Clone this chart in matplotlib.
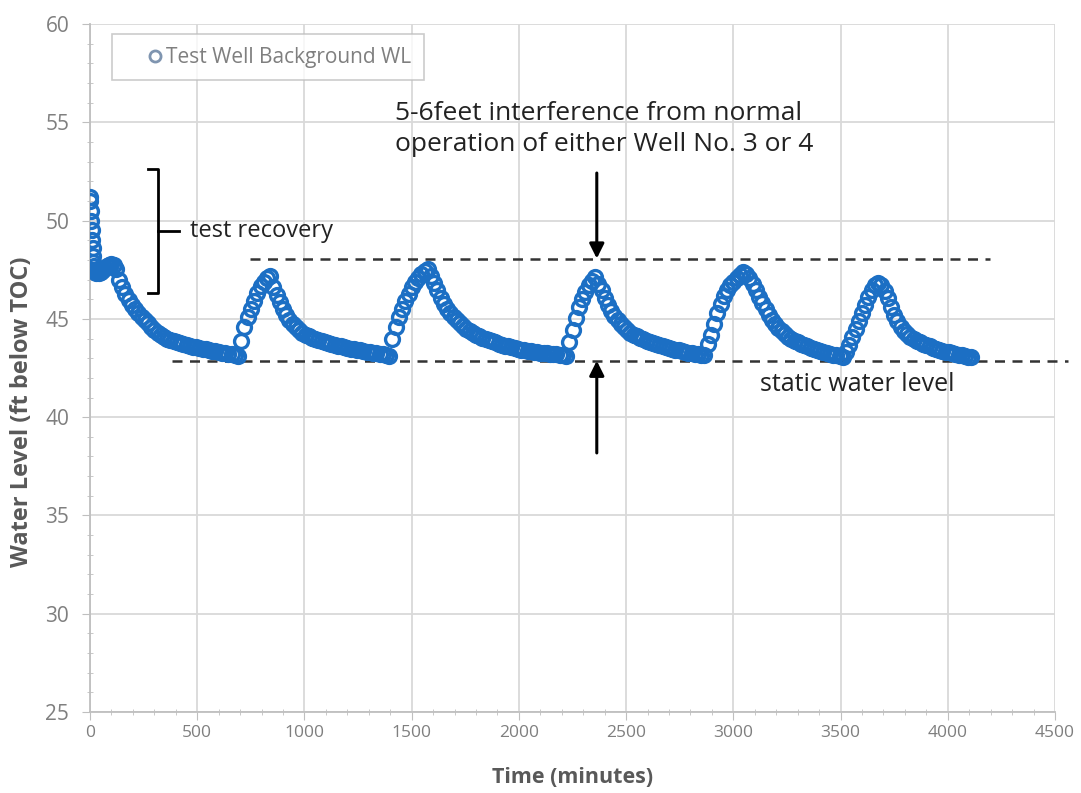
import matplotlib
matplotlib.use("Agg")
import matplotlib.pyplot as plt
import numpy as np

plt.rcParams['font.family'] = ['Open Sans', 'DejaVu Sans']

# early recovery readings right after the test (logged every couple of minutes)
recovery_t = [0, 2, 4, 6, 8, 10, 12, 14, 16, 18, 20, 25, 30, 40, 50, 60, 70, 80, 90, 100, 110]
recovery_wl = [51.2, 51.0, 50.5, 50.0, 49.5, 49.0, 48.6, 48.2, 47.9, 47.7,
               47.5, 47.4, 47.35, 47.35, 47.4, 47.5, 47.6, 47.7, 47.75, 47.8, 47.75]

# afterwards the logger reads every 15 minutes
log_interval = 15
seg_start = [120, 705, 855, 1410, 1590, 2235, 2370, 2880, 3060, 3525, 3690]

fall0 = [47.55, 47.0, 46.6, 46.25, 45.95, 45.7, 45.5, 45.3, 45.1, 44.95,
         44.8, 44.6, 44.45, 44.3, 44.2, 44.1, 44.0, 43.95, 43.88, 43.82,
         43.77, 43.72, 43.67, 43.63, 43.59, 43.55, 43.52, 43.48, 43.45, 43.42,
         43.38, 43.35, 43.32, 43.29, 43.26, 43.23, 43.2, 43.17, 43.13]
rise1 = [43.9, 44.6, 45.1, 45.5, 45.9, 46.3, 46.65, 46.9, 47.1, 47.2]
fall1 = [46.6, 46.2, 45.85, 45.5, 45.2, 44.95, 44.75, 44.6, 44.45, 44.3,
         44.2, 44.12, 44.05, 43.98, 43.92, 43.87, 43.82, 43.77, 43.73, 43.68,
         43.64, 43.6, 43.56, 43.52, 43.49, 43.46, 43.43, 43.4, 43.37, 43.34,
         43.31, 43.28, 43.25, 43.22, 43.19, 43.16, 43.12]
rise2 = [44.0, 44.6, 45.1, 45.5, 45.9, 46.25, 46.6, 46.9, 47.1, 47.3, 47.45, 47.55]
fall2 = [47.2, 46.85, 46.45, 46.05, 45.75, 45.5, 45.3, 45.1, 44.93, 44.77,
         44.62, 44.5, 44.4, 44.3, 44.2, 44.12, 44.05, 43.98, 43.92, 43.86,
         43.8, 43.74, 43.69, 43.64, 43.6, 43.56, 43.52, 43.48, 43.44, 43.41,
         43.38, 43.35, 43.33, 43.31, 43.29, 43.27, 43.25, 43.23, 43.21, 43.19,
         43.17, 43.15, 43.13]
rise3 = [43.8, 44.45, 45.05, 45.6, 46.0, 46.35, 46.7, 46.95, 47.15]
fall3 = [46.8, 46.45, 46.05, 45.7, 45.4, 45.15, 44.93, 44.75, 44.58, 44.43,
         44.3, 44.2, 44.12, 44.04, 43.97, 43.9, 43.84, 43.78, 43.72, 43.67,
         43.62, 43.57, 43.52, 43.48, 43.44, 43.4, 43.36, 43.32, 43.29, 43.26,
         43.23, 43.2, 43.17, 43.14]
rise4 = [43.7, 44.2, 44.75, 45.3, 45.75, 46.15, 46.45, 46.7, 46.9, 47.1, 47.25, 47.4]
fall4 = [47.3, 47.1, 46.8, 46.45, 46.1, 45.8, 45.5, 45.2, 44.95, 44.72,
         44.55, 44.38, 44.22, 44.1, 43.99, 43.9, 43.82, 43.74, 43.67, 43.6,
         43.54, 43.48, 43.42, 43.37, 43.32, 43.27, 43.22, 43.18, 43.14, 43.1,
         43.06]
rise5 = [43.3, 43.65, 44.1, 44.5, 44.9, 45.3, 45.7, 46.1, 46.45, 46.7, 46.85]
fall5 = [46.7, 46.4, 46.05, 45.6, 45.2, 44.9, 44.6, 44.38, 44.22, 44.1,
         43.99, 43.9, 43.82, 43.74, 43.67, 43.6, 43.53, 43.48, 43.43, 43.38,
         43.34, 43.3, 43.26, 43.22, 43.18, 43.14, 43.1, 43.07, 43.04]

segments = [fall0, rise1, fall1, rise2, fall2, rise3, fall3, rise4, fall4, rise5, fall5]

# reference levels drawn on the chart
interference_wl = 48.07
static_wl = 42.87

times = list(recovery_t)
levels = list(recovery_wl)
for start, wl in zip(seg_start, segments):
    times += [start + log_interval * i for i in range(len(wl))]
    levels += wl

fig = plt.figure(figsize=(10.81, 7.93), dpi=100)
ax = fig.add_axes([0.0833, 0.1021, 0.8927, 0.8676])

blue = '#1C6FC4'
ax.plot(times, levels, ls='none', marker='o', mfc='none', mec=blue, mew=2.4, ms=10,
        label='Test Well Background WL', zorder=3)

ax.set_xlim(0, 4500)
ax.set_ylim(25, 60)
ax.set_xticks(np.arange(0, 4501, 500))
ax.set_yticks(np.arange(25, 61, 5))
ax.set_xticks(np.arange(0, 4501, 100), minor=True)
ax.set_yticks(np.arange(25, 61, 1), minor=True)
ax.grid(True, which='major', color='#D9D9D9', lw=1.3)
ax.set_axisbelow(True)
for s in ['top', 'right']:
    ax.spines[s].set_visible(False)
for s in ['left', 'bottom']:
    ax.spines[s].set_color('#BFBFBF')
    ax.spines[s].set_linewidth(1.3)
ax.tick_params(which='major', length=6, color='#BFBFBF', labelcolor='#7F7F7F')
ax.tick_params(axis='x', which='major', labelsize=12.5)
ax.tick_params(axis='y', which='major', labelsize=15, pad=9)
ax.tick_params(which='minor', length=4, direction='inout', color='#BFBFBF')

ax.set_xlabel('Time (minutes)', fontsize=15.5, fontweight='bold', color='#595959')
ax.set_ylabel('Water Level (ft below TOC)', fontsize=17, fontweight='bold', color='#595959')
ax.xaxis.set_label_coords(0.5, -0.08)
ax.yaxis.set_label_coords(-0.058, 0.436)

leg = ax.legend(loc='upper left', bbox_to_anchor=(0.0228, 0.985), fontsize=15,
                frameon=True, fancybox=False, borderpad=0.6, handlelength=2.9,
                handletextpad=-0.9, numpoints=1, borderaxespad=0)
leg.get_frame().set_edgecolor('#BFBFBF')
leg.get_frame().set_linewidth(1.2)
leg.legend_handles[0].set_markeredgecolor('#7F95B0')
leg.legend_handles[0].set_markersize(8)
leg.legend_handles[0].set_markeredgewidth(2)
for t in leg.get_texts():
    t.set_color('#7F7F7F')

# dashed reference lines
dash = (0, (4, 3))
ax.plot([746, 4198], [interference_wl, interference_wl], color='#333333', lw=1.8, ls=dash)
ax.plot([382, 4561], [static_wl, static_wl], color='#333333', lw=1.8, ls=dash, clip_on=False)

# arrows showing interference
arrow = dict(arrowstyle='-|>', color='black', lw=2.2, mutation_scale=22, shrinkA=0, shrinkB=0)
ax.annotate('', xy=(2363, interference_wl), xytext=(2363, 52.42), arrowprops=arrow)
ax.annotate('', xy=(2363, static_wl), xytext=(2363, 38.18), arrowprops=arrow)

ax.text(1423, 54.65, '5-6feet interference from normal\noperation of either Well No. 3 or 4',
        fontsize=19, color='#222222', va='center', ha='left', linespacing=1.3)

# bracket for test recovery
ax.plot([270, 316, 316, 270], [52.62, 52.62, 46.32, 46.32], color='black', lw=2)
ax.plot([316, 415], [49.47, 49.47], color='black', lw=2)
ax.text(466, 49.47, 'test recovery', fontsize=17, color='#222222', va='center', ha='left')

ax.text(3125, 41.64, 'static water level', fontsize=18, color='#222222', va='center', ha='left')

fig.savefig('out.png', dpi=100)
